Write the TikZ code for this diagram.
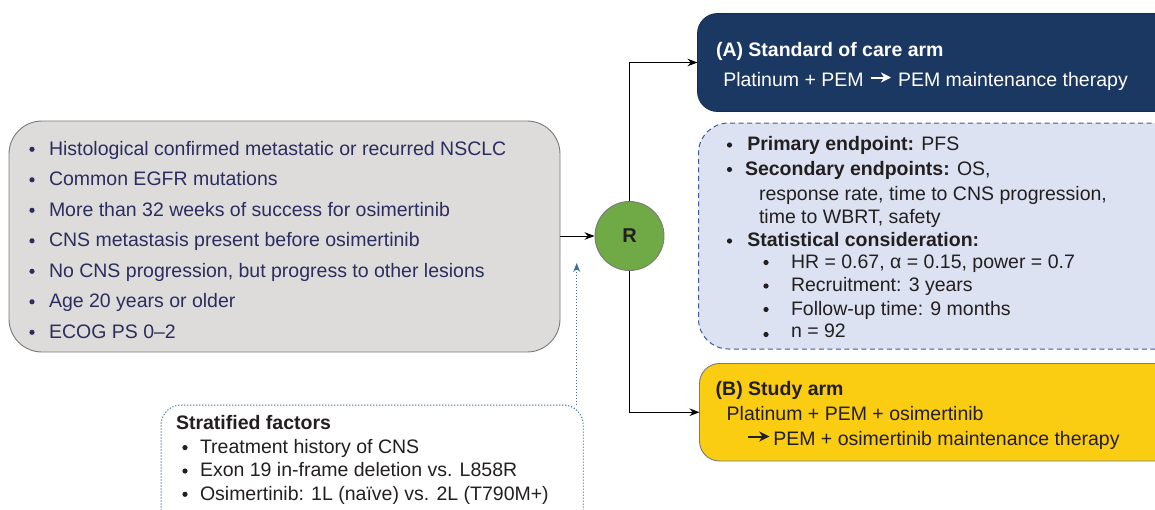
\documentclass[tikz,border=0pt]{standalone}
\usepackage{fontspec}
\setmainfont{Liberation Sans}
\usetikzlibrary{arrows.meta,calc}
\definecolor{navyfill}{HTML}{1B3862}
\definecolor{greyfill}{HTML}{DDDCDA}
\definecolor{greyline}{HTML}{7A7A7A}
\definecolor{eligtext}{HTML}{2B2D60}
\definecolor{endfill}{HTML}{DCE2F2}
\definecolor{endline}{HTML}{3D5B9B}
\definecolor{yellowfill}{HTML}{FACC12}
\definecolor{greenfill}{HTML}{6FAA46}
\definecolor{darktext}{HTML}{231F20}
\definecolor{dotblue}{HTML}{3D6F99}
\begin{document}
\begin{tikzpicture}[x=1pt,y=-1pt,
  every node/.style={font=\fontsize{19.5}{23}\selectfont},
  txt/.style={anchor=base west, inner sep=0pt, outer sep=0pt},
  panel/.style={anchor=north west, inner sep=0pt, outer sep=0pt},
  link/.style={draw=black, line width=0.9pt, -{Stealth[length=10pt,width=7.5pt]}},
  inarrow/.style={line width=2pt, -{Stealth[length=10pt,width=10pt,inset=3pt]}},
  dotlink/.style={draw=dotblue, line width=1pt, dash pattern=on 1.2pt off 1.8pt, -{Stealth[length=9pt,width=7pt,fill=dotblue]}},
]
\useasboundingbox (0,0) rectangle (1155,509);
\clip (0,0) rectangle (1155,509);

% ---------- panels ----------
\node[panel, draw=greyline, fill=greyfill, line width=0.9pt, rounded corners=33pt,
      minimum width=551pt, minimum height=231pt] (elig) at (9,121) {};
\node[panel, draw=navyfill!80!black, fill=navyfill, line width=0.8pt, rounded corners=20pt,
      minimum width=500pt, minimum height=98pt] (armA) at (697.5,13.5) {};
\node[panel, draw=endline, fill=endfill, line width=1pt, dash pattern=on 5pt off 3.5pt, rounded corners=30pt,
      minimum width=500pt, minimum height=226pt] (endp) at (698.5,123) {};
\node[panel, draw=greyline, fill=yellowfill, line width=0.9pt, rounded corners=20pt,
      minimum width=500pt, minimum height=97.5pt] (armB) at (699.5,363.5) {};
\node[panel, draw=dotblue, line width=1pt, dash pattern=on 1.2pt off 1.8pt, rounded corners=20pt,
      minimum width=422.3pt, minimum height=150pt] (strat) at (161,405) {};
\node[circle, draw=greyline, fill=greenfill, line width=0.9pt, minimum size=69pt, inner sep=0pt,
      text=darktext, font=\fontsize{20}{24}\selectfont\bfseries] (R) at (629.5,236) {R};

% ---------- connectors ----------
\draw[link] (elig.east |- R.west) -- (R.west);
\draw[link] (R.north) |- (armA.west);
\draw[link] (R.south) |- (armB.west);
\coordinate (sfTop) at (576.7,263);
\draw[dotlink] (strat.north east -| sfTop) -- (sfTop);

% ---------- eligibility text ----------
\begin{scope}[eligtext]
\foreach \yy in {155,185.5,216,246.5,277,307.5,338}
  \fill (32,\yy-5.7) circle (2.6);
\end{scope}
\node[txt, text=eligtext] (e1) at (49,155) {Histological confirmed metastatic or recurred NSCLC};
\node[txt, text=eligtext] (e2) at (49,185.5) {Common EGFR mutations};
\node[txt, text=eligtext] (e3) at (49,216) {More than 32 weeks of success for osimertinib};
\node[txt, text=eligtext] (e4) at (49,246.5) {CNS metastasis present before osimertinib};
\node[txt, text=eligtext] (e5) at (49,277) {No CNS progression, but progress to other lesions};
\node[txt, text=eligtext] (e6) at (49,307.5) {Age 20 years or older};
\node[txt, text=eligtext] (e7) at (49,338) {ECOG PS 0–2};

% ---------- arm A ----------
\node[txt, text=white, font=\fontsize{19.5}{23}\selectfont\bfseries] (a0) at (716,56) {(A) Standard of care arm};
\node[txt, text=white] (a1) at (723.3,86) {Platinum + PEM};
\node[txt, text=white] (a2) at (898,86) {PEM maintenance therapy};
\draw[inarrow, white] ([shift={(7pt,8.5pt)}]a1.base east) -- ([shift={(-7pt,8.5pt)}]a2.base west);

% ---------- endpoints ----------
\begin{scope}[darktext]
\fill (729.5,145) circle (2.6);
\fill (729.5,169.5) circle (2.6);
\fill (729.5,241) circle (2.6);
\foreach \yy in {262.5,286,309.5}
  \fill (766,\yy) circle (2.6);
\fill (766,334.5) circle (2.6);
\end{scope}
\node[txt, text=darktext] (p1) at (747.3,150.7) {\textbf{Primary endpoint:} PFS};
\node[txt, text=darktext] (p2) at (745,175) {\textbf{Secondary endpoints:} OS,};
\node[txt, text=darktext] (p3) at (759,200) {response rate, time to CNS progression,};
\node[txt, text=darktext] (p4) at (759,223.3) {time to WBRT, safety};
\node[txt, text=darktext] (p5) at (747.3,246.7) {\textbf{Statistical consideration:}};
\node[txt, text=darktext] (p6) at (791,268.3) {HR = 0.67, α = 0.15, power = 0.7};
\node[txt, text=darktext] (p7) at (791,291.7) {Recruitment: 3 years};
\node[txt, text=darktext] (p8) at (791,315) {Follow-up time: 9 months};
\node[txt, text=darktext] (p9) at (791,337.7) {n = 92};

% ---------- arm B ----------
\node[txt, text=darktext, font=\fontsize{19.5}{23}\selectfont\bfseries] (b0) at (715.7,395) {(B) Study arm};
\node[txt, text=darktext] (b1) at (726.7,420) {Platinum + PEM + osimertinib};
\node[txt, text=darktext] (b2) at (773.3,445) {PEM + osimertinib maintenance therapy};
\coordinate (bArrow) at (748,436.5);
\draw[inarrow, darktext] (bArrow) -- ([shift={(-4pt,8.5pt)}]b2.base west);

% ---------- stratified factors ----------
\node[txt, text=darktext, font=\fontsize{19.5}{23}\selectfont\bfseries] (s0) at (176,429.3) {Stratified factors};
\begin{scope}[darktext]
\foreach \yy in {453.3,476.7,500}
  \fill (185,\yy-5.7) circle (2.6);
\end{scope}
\node[txt, text=darktext] (s1) at (200,453.3) {Treatment history of CNS};
\node[txt, text=darktext] (s2) at (200,476.7) {Exon 19 in-frame deletion vs. L858R};
\node[txt, text=darktext] (s3) at (200,500) {Osimertinib: 1L (naïve) vs. 2L (T790M+)};
\end{tikzpicture}
\end{document}
